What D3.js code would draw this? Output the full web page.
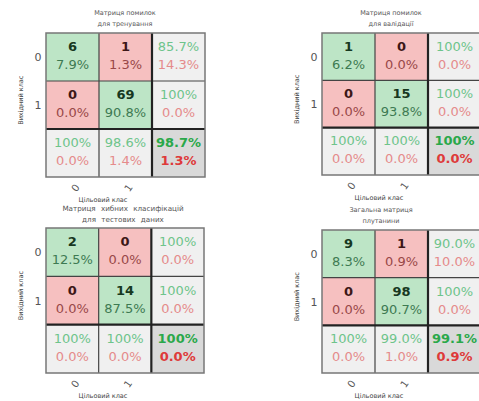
<!DOCTYPE html>
<html>
<head>
<meta charset="utf-8">
<script src="https://cdn.jsdelivr.net/npm/d3@7"></script>
<style>
  html, body { margin: 0; padding: 0; background: #ffffff; }
  svg { display: block; font-family: "DejaVu Sans", sans-serif; }
</style>
</head>
<body>
<svg id="chart" width="479" height="401"></svg>
<script>
// Class labels shared by every matrix
const classLabels = ["0", "1"];

// Confusion counts: rows = output class, columns = target class
const trainCounts = [[6, 1], [0, 69]];
const validCounts = [[1, 0], [0, 15]];
const testCounts  = [[2, 0], [0, 14]];
const allCounts   = [[9, 1], [0, 98]];

// Titles (two lines each)
const trainTitle = ["Матриця помилок", "для тренування"];
const validTitle = ["Матриця помилок", "для валідації"];
const testTitle  = ["Матриця хибних класифікацій", "для тестових даних"];
const allTitle   = ["Загальна матриця", "плутанини"];

const xAxisLabel = "Цільовий клас";
const yAxisLabel = "Вихідний клас";

const svg = d3.select("#chart");

const panels = [
  { counts: trainCounts, title: trainTitle, x: 46,  y: 33,  w: 159, h: 144, tx: 125, ty: 15, tfs: 6.5 },
  { counts: validCounts, title: validTitle, x: 322, y: 33,  w: 159, h: 142, tx: 391, ty: 15, tfs: 6.5 },
  { counts: testCounts,  title: testTitle,  x: 46,  y: 228, w: 158, h: 145, tx: 123, ty: 211, tfs: 7.2 },
  { counts: allCounts,   title: allTitle,   x: 322, y: 230, w: 159, h: 143, tx: 381, ty: 212, tfs: 6.5 }
];

// One-decimal percentage with round-half-to-even (printf style), "100%" when whole
function fmt(v) {
  if (Math.abs(v - 100) < 1e-9) return "100%";
  const s = v * 10;
  let r = Math.round(s);
  if (Math.abs(s - Math.floor(s) - 0.5) < 1e-9) {
    const f = Math.floor(s);
    r = (f % 2 === 0) ? f : f + 1;
  }
  return (r / 10).toFixed(1) + "%";
}

const col = {
  diagBg: "#bde5c6",
  offBg: "#f6c0c0",
  sumBg: "#f0f0f0",
  cornerBg: "#d9d9d9",
  diagCount: "#17381f",
  offCount: "#3d1717",
  diagPct: "#3d7a52",
  offPct: "#994848",
  sumGood: "#6ec48b",
  sumBad: "#e58b8b",
  cornerGood: "#2aa84a",
  cornerBad: "#de3a3a"
};

panels.forEach(p => {
  const g = svg.append("g");
  const n = classLabels.length;
  const idx = d3.range(n + 1);
  const xs = d3.scaleBand().domain(idx).range([p.x, p.x + p.w]);
  const ys = d3.scaleBand().domain(idx).range([p.y, p.y + p.h]);
  const total = d3.sum(p.counts.flat());

  // Build cells: main block, row summaries, column summaries, corner
  const cells = [];
  for (let r = 0; r <= n; r++) {
    for (let c = 0; c <= n; c++) {
      if (r < n && c < n) {
        const v = p.counts[r][c];
        cells.push({ r, c, kind: r === c ? "diag" : "off",
          top: String(v), bottom: fmt(100 * v / total) });
      } else if (r < n && c === n) {
        const rowSum = d3.sum(p.counts[r]);
        const good = rowSum ? 100 * p.counts[r][r] / rowSum : 0;
        cells.push({ r, c, kind: "sum", top: fmt(good), bottom: fmt(100 - good) });
      } else if (r === n && c < n) {
        const colSum = d3.sum(p.counts, row => row[c]);
        const good = colSum ? 100 * p.counts[c][c] / colSum : 0;
        cells.push({ r, c, kind: "sum", top: fmt(good), bottom: fmt(100 - good) });
      } else {
        const diag = d3.sum(d3.range(n), i => p.counts[i][i]);
        const good = 100 * diag / total;
        cells.push({ r, c, kind: "corner", top: fmt(good), bottom: fmt(100 - good) });
      }
    }
  }

  const bg = { diag: col.diagBg, off: col.offBg, sum: col.sumBg, corner: col.cornerBg };

  g.selectAll("rect.cell").data(cells).enter().append("rect")
    .attr("class", "cell")
    .attr("x", d => xs(d.c)).attr("y", d => ys(d.r))
    .attr("width", xs.bandwidth()).attr("height", ys.bandwidth())
    .attr("fill", d => bg[d.kind]);

  const cx = d => xs(d.c) + xs.bandwidth() / 2;
  const cy = d => ys(d.r) + ys.bandwidth() / 2;

  g.selectAll("text.top").data(cells).enter().append("text")
    .attr("x", cx).attr("y", d => cy(d) - 6)
    .attr("text-anchor", "middle")
    .attr("font-size", 13)
    .attr("font-weight", d => (d.kind === "diag" || d.kind === "off" || d.kind === "corner") ? "bold" : "normal")
    .attr("fill", d => d.kind === "diag" ? col.diagCount : d.kind === "off" ? col.offCount :
                       d.kind === "sum" ? col.sumGood : col.cornerGood)
    .text(d => d.top);

  g.selectAll("text.bottom").data(cells).enter().append("text")
    .attr("x", cx).attr("y", d => cy(d) + 12)
    .attr("text-anchor", "middle")
    .attr("font-size", 13)
    .attr("font-weight", d => d.kind === "corner" ? "bold" : "normal")
    .attr("fill", d => d.kind === "diag" ? col.diagPct : d.kind === "off" ? col.offPct :
                       d.kind === "sum" ? col.sumBad : col.cornerBad)
    .text(d => d.bottom);

  // Grid lines
  const inner = idx.slice(1, n);
  g.selectAll("line.v").data(inner).enter().append("line")
    .attr("x1", d => xs(d)).attr("x2", d => xs(d))
    .attr("y1", p.y).attr("y2", p.y + p.h)
    .attr("stroke", "#444").attr("stroke-width", 1.2);
  g.selectAll("line.h").data(inner).enter().append("line")
    .attr("y1", d => ys(d)).attr("y2", d => ys(d))
    .attr("x1", p.x).attr("x2", p.x + p.w)
    .attr("stroke", "#444").attr("stroke-width", 1.2);
  // Heavier separators before the summary row/column
  g.append("line")
    .attr("x1", xs(n)).attr("x2", xs(n)).attr("y1", p.y).attr("y2", p.y + p.h)
    .attr("stroke", "#222").attr("stroke-width", 2.2);
  g.append("line")
    .attr("y1", ys(n)).attr("y2", ys(n)).attr("x1", p.x).attr("x2", p.x + p.w)
    .attr("stroke", "#222").attr("stroke-width", 2.2);
  g.append("rect")
    .attr("x", p.x).attr("y", p.y).attr("width", p.w).attr("height", p.h)
    .attr("fill", "none").attr("stroke", "#777").attr("stroke-width", 1.5);

  // Y tick labels
  g.selectAll("text.ytick").data(classLabels).enter().append("text")
    .attr("x", p.x - 8).attr("y", (d, i) => ys(i) + ys.bandwidth() / 2 + 4)
    .attr("text-anchor", "middle").attr("font-size", 11).attr("fill", "#555")
    .text(d => d);

  // X tick labels, rotated
  g.selectAll("text.xtick").data(classLabels).enter().append("text")
    .attr("transform", (d, i) => `translate(${xs(i) + xs.bandwidth() / 2 + 3},${p.y + p.h + 11}) rotate(-55)`)
    .attr("text-anchor", "middle").attr("dy", "0.35em").attr("font-size", 10).attr("fill", "#555")
    .text(d => d);

  // Axis labels
  g.append("text")
    .attr("x", p.x + 57).attr("y", p.y + p.h + 25)
    .attr("text-anchor", "middle").attr("font-size", 6.5).attr("fill", "#444")
    .text(xAxisLabel);
  g.append("text")
    .attr("transform", `translate(${p.x - 23},${ys(1) + ys.bandwidth() * 0.4})rotate(-90)`)
    .attr("text-anchor", "middle").attr("font-size", 6.5).attr("fill", "#444")
    .text(yAxisLabel);

  // Title
  g.selectAll("text.title").data(p.title).enter().append("text")
    .attr("x", p.tx).attr("y", (d, i) => p.ty + i * 11)
    .attr("text-anchor", "middle").attr("font-size", p.tfs).attr("fill", "#555")
    .attr("word-spacing", p.tfs > 7 ? 3 : 0)
    .text(d => d);
});
</script>
</body>
</html>
